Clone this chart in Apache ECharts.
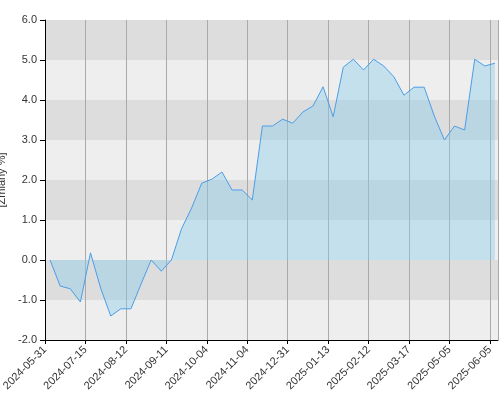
<!DOCTYPE html><html><head><meta charset="utf-8"><script src="https://cdn.jsdelivr.net/npm/echarts@6/dist/echarts.min.js"></script></head><body style="margin:0"><div id="c" style="width:500px;height:400px"></div><script>
const tickLabels=['2024-05-31','2024-07-15','2024-08-12','2024-09-11','2024-10-04','2024-11-04','2024-12-31','2025-01-13','2025-02-12','2025-03-17','2025-05-05','2025-06-05'];
const values=[0.0,-0.65,-0.72,-1.05,0.18,-0.7,-1.4,-1.22,-1.22,-0.6,0.0,-0.28,0.0,0.78,1.3,1.92,2.02,2.2,1.75,1.75,1.5,3.35,3.35,3.52,3.42,3.7,3.85,4.33,3.58,4.82,5.02,4.75,5.02,4.85,4.58,4.12,4.32,4.32,3.6,3.0,3.35,3.25,5.02,4.85,4.92];
const data=values.map((v,i)=>[i+0.5,v]);
const c=echarts.init(document.getElementById('c'));
c.setOption({animation:false,
grid:{left:45,right:2,top:20,bottom:60,containLabel:false,outerBoundsMode:'none'},
xAxis:{type:'value',min:0,max:44.8,interval:4,
 axisLine:{show:true,onZero:false,lineStyle:{color:'#000'}},axisTick:{show:true,length:4,lineStyle:{color:'#000'}},
 splitLine:{show:true,lineStyle:{color:'#aaa'}},
 axisLabel:{rotate:45,fontSize:11,color:'#333',showMaxLabel:false,formatter:v=>tickLabels[Math.round(v/4)]||''}},
yAxis:{type:'value',min:-2,max:6,interval:1,name:'[Zmiany %]',nameLocation:'middle',nameGap:32,nameTextStyle:{color:'#333',fontSize:11},
 axisLine:{show:true,lineStyle:{color:'#000'}},axisTick:{show:true,lineStyle:{color:'#000'}},
 axisLabel:{color:'#333',fontSize:11,formatter:v=>v.toFixed(1)},
 splitLine:{show:false},splitArea:{show:true,areaStyle:{color:['#eeeeee','#dddddd']}}},
series:[{type:'line',data:data,symbol:'none',lineStyle:{color:'#4a9ee8',width:1},areaStyle:{color:'rgba(140,205,235,0.6)'}}]});
</script></body></html>
